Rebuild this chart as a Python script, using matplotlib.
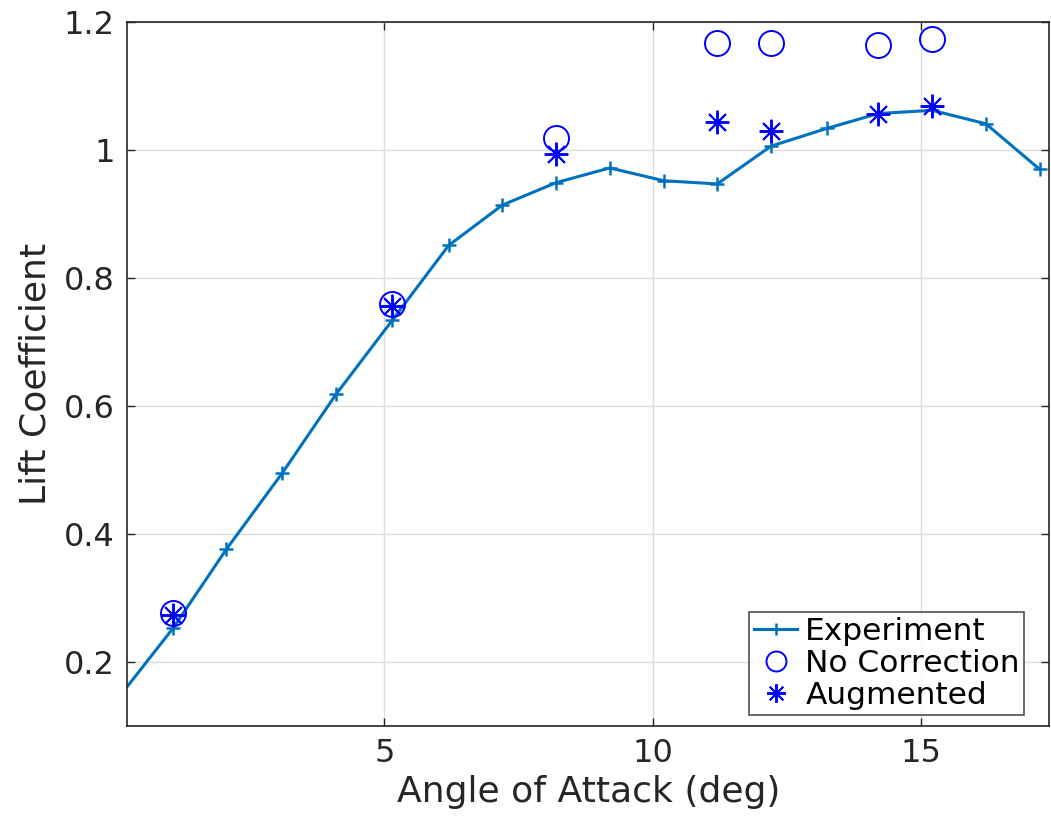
import matplotlib
matplotlib.use("Agg")
import matplotlib.pyplot as plt

# experiment (measured lift curve)
exp_alpha = [0.22, 1.07, 2.06, 3.1, 4.1, 5.15, 6.2, 7.2, 8.2, 9.2, 10.2, 11.2,
             12.2, 13.25, 14.2, 15.2, 16.2, 17.2]
exp_cl = [0.162, 0.253, 0.376, 0.495, 0.618, 0.734, 0.851, 0.914, 0.949, 0.972,
          0.952, 0.947, 1.006, 1.034, 1.057, 1.062, 1.041, 0.970]

# simulations
sim_alpha = [1.07, 5.15, 8.2, 11.2, 12.2, 14.2, 15.2]
nocorr_cl = [0.277, 0.760, 1.018, 1.167, 1.167, 1.164, 1.173]
augmented_cl = [0.274, 0.756, 0.994, 1.043, 1.030, 1.057, 1.068]

plt.rcParams['font.family'] = ['DejaVu Sans']

fig = plt.figure(figsize=(10.51, 8.31), dpi=100)
ax = fig.add_axes([0.1213, 0.1264, 0.877, 0.8471])

ax.plot(exp_alpha, exp_cl, color='#0072BD', lw=2.2, marker='+', ms=10, mew=1.8,
        markevery=list(range(1, len(exp_alpha))), label='Experiment')
ax.plot(sim_alpha, nocorr_cl, ls='none', marker='o', ms=18, mfc='none',
        mec='#0000FF', mew=1.4, label='No Correction')
ax.plot(sim_alpha, augmented_cl, ls='none', marker=(8, 2, 0), ms=17,
        mec='#0000FF', mew=1.4, label='Augmented')

ax.set_xlim(0.22, 17.38)
ax.set_ylim(0.1, 1.2)
ax.set_xticks([5, 10, 15])
ax.set_yticks([0.2, 0.4, 0.6, 0.8, 1.0, 1.2])
ax.set_yticklabels(['0.2', '0.4', '0.6', '0.8', '1', '1.2'])
ax.grid(True, color='#dcdcdc', lw=1)
ax.set_axisbelow(True)
ax.tick_params(direction='in', length=6, width=1, labelsize=23, colors='#262626',
               top=True, right=True, pad=9)
for s in ax.spines.values():
    s.set_color('#262626')
    s.set_linewidth(1.2)

ax.set_xlabel('Angle of Attack (deg)', fontsize=26, color='#262626', labelpad=4)
ax.set_ylabel('Lift Coefficient', fontsize=26, color='#262626', labelpad=8)

leg = ax.legend(loc='lower right', fontsize=22.5, frameon=True, fancybox=False,
                borderpad=0.15, labelspacing=0.1, handlelength=1.4,
                handletextpad=0.25, borderaxespad=0.35, markerscale=0.8,
                bbox_to_anchor=(0.985, 0.0))
leg.get_frame().set_edgecolor('#262626')
leg.get_frame().set_linewidth(1.2)

fig.savefig('out.png', dpi=100)
